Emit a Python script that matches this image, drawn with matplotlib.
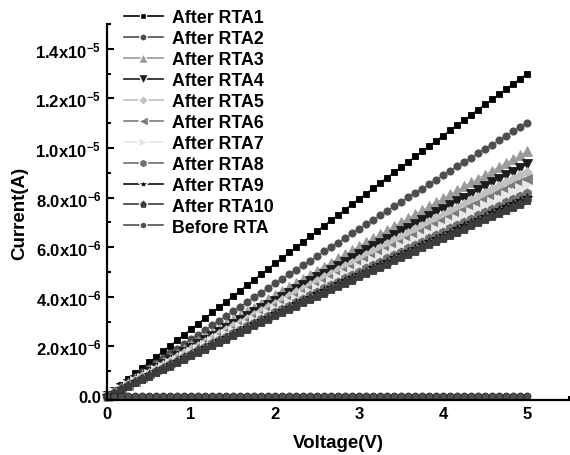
import numpy as np
import matplotlib
matplotlib.use('Agg')
import matplotlib.pyplot as plt
from matplotlib.ticker import FixedLocator, MultipleLocator

plt.rcParams['font.family'] = ['Liberation Sans', 'DejaVu Sans']
plt.rcParams['font.weight'] = 'bold'
plt.rcParams['mathtext.fontset'] = 'custom'
plt.rcParams['mathtext.rm'] = 'Liberation Sans:bold'
plt.rcParams['mathtext.bf'] = 'Liberation Sans:bold'
plt.rcParams['mathtext.default'] = 'bf'

# 电压扫描点 (V)
voltage = [0.000, 0.083, 0.167, 0.250, 0.333, 0.417, 0.500, 0.583, 0.667, 0.750,
           0.833, 0.917, 1.000, 1.083, 1.167, 1.250, 1.333, 1.417, 1.500, 1.583,
           1.667, 1.750, 1.833, 1.917, 2.000, 2.083, 2.167, 2.250, 2.333, 2.417,
           2.500, 2.583, 2.667, 2.750, 2.833, 2.917, 3.000, 3.083, 3.167, 3.250,
           3.333, 3.417, 3.500, 3.583, 3.667, 3.750, 3.833, 3.917, 4.000, 4.083,
           4.167, 4.250, 4.333, 4.417, 4.500, 4.583, 4.667, 4.750, 4.833, 4.917,
           5.000]

# 电流 (uA)
rta1 = [0.00, 0.23, 0.45, 0.68, 0.91, 1.13, 1.36, 1.58, 1.81, 2.03, 2.25, 2.48, 2.70,
        2.92, 3.15, 3.37, 3.59, 3.81, 4.03, 4.25, 4.47, 4.69, 4.91, 5.13, 5.35, 5.57,
        5.79, 6.00, 6.22, 6.44, 6.66, 6.87, 7.09, 7.30, 7.52, 7.74, 7.95, 8.16, 8.38,
        8.59, 8.81, 9.02, 9.23, 9.44, 9.66, 9.87, 10.08, 10.29, 10.50, 10.71, 10.92,
        11.13, 11.34, 11.55, 11.76, 11.96, 12.17, 12.38, 12.59, 12.79, 13.00]
rta2 = [0.00, 0.19, 0.38, 0.58, 0.77, 0.96, 1.15, 1.34, 1.53, 1.72, 1.91, 2.10, 2.29,
        2.48, 2.67, 2.85, 3.04, 3.23, 3.42, 3.60, 3.79, 3.98, 4.16, 4.35, 4.54, 4.72,
        4.91, 5.09, 5.27, 5.46, 5.64, 5.83, 6.01, 6.19, 6.37, 6.56, 6.74, 6.92, 7.10,
        7.28, 7.46, 7.65, 7.83, 8.01, 8.19, 8.36, 8.54, 8.72, 8.90, 9.08, 9.26, 9.43,
        9.61, 9.79, 9.97, 10.14, 10.32, 10.49, 10.67, 10.85, 11.02]
rta3 = [0.00, 0.17, 0.34, 0.52, 0.69, 0.86, 1.03, 1.20, 1.37, 1.54, 1.71, 1.88, 2.05,
        2.22, 2.39, 2.56, 2.72, 2.89, 3.06, 3.23, 3.40, 3.56, 3.73, 3.90, 4.06, 4.23,
        4.39, 4.56, 4.72, 4.89, 5.05, 5.22, 5.38, 5.55, 5.71, 5.87, 6.04, 6.20, 6.36,
        6.52, 6.69, 6.85, 7.01, 7.17, 7.33, 7.49, 7.65, 7.81, 7.97, 8.13, 8.29, 8.45,
        8.61, 8.77, 8.93, 9.08, 9.24, 9.40, 9.56, 9.71, 9.87]
rta4 = [0.00, 0.16, 0.33, 0.49, 0.65, 0.81, 0.98, 1.14, 1.30, 1.46, 1.62, 1.78, 1.94,
        2.10, 2.26, 2.42, 2.58, 2.74, 2.90, 3.06, 3.22, 3.37, 3.53, 3.69, 3.85, 4.01,
        4.16, 4.32, 4.48, 4.63, 4.79, 4.94, 5.10, 5.25, 5.41, 5.56, 5.72, 5.87, 6.03,
        6.18, 6.33, 6.49, 6.64, 6.79, 6.94, 7.10, 7.25, 7.40, 7.55, 7.70, 7.85, 8.00,
        8.16, 8.31, 8.46, 8.61, 8.75, 8.90, 9.05, 9.20, 9.35]
rta5 = [0.00, 0.16, 0.32, 0.47, 0.63, 0.79, 0.94, 1.10, 1.26, 1.41, 1.57, 1.72, 1.88,
        2.03, 2.19, 2.34, 2.50, 2.65, 2.81, 2.96, 3.11, 3.27, 3.42, 3.57, 3.72, 3.88,
        4.03, 4.18, 4.33, 4.48, 4.63, 4.78, 4.94, 5.09, 5.24, 5.38, 5.53, 5.68, 5.83,
        5.98, 6.13, 6.28, 6.43, 6.57, 6.72, 6.87, 7.02, 7.16, 7.31, 7.46, 7.60, 7.75,
        7.89, 8.04, 8.18, 8.33, 8.47, 8.62, 8.76, 8.91, 9.05]
rta6 = [0.00, 0.15, 0.31, 0.46, 0.61, 0.76, 0.92, 1.07, 1.22, 1.37, 1.52, 1.67, 1.82,
        1.97, 2.12, 2.27, 2.42, 2.57, 2.72, 2.87, 3.02, 3.17, 3.31, 3.46, 3.61, 3.76,
        3.90, 4.05, 4.20, 4.34, 4.49, 4.64, 4.78, 4.93, 5.07, 5.22, 5.36, 5.51, 5.65,
        5.80, 5.94, 6.08, 6.23, 6.37, 6.51, 6.66, 6.80, 6.94, 7.08, 7.23, 7.37, 7.51,
        7.65, 7.79, 7.93, 8.07, 8.21, 8.35, 8.49, 8.63, 8.77]
rta7 = [0.00, 0.15, 0.30, 0.44, 0.59, 0.74, 0.89, 1.03, 1.18, 1.33, 1.47, 1.62, 1.77,
        1.91, 2.06, 2.20, 2.35, 2.49, 2.64, 2.78, 2.92, 3.07, 3.21, 3.35, 3.50, 3.64,
        3.78, 3.93, 4.07, 4.21, 4.35, 4.49, 4.64, 4.78, 4.92, 5.06, 5.20, 5.34, 5.48,
        5.62, 5.76, 5.90, 6.04, 6.17, 6.31, 6.45, 6.59, 6.73, 6.87, 7.00, 7.14, 7.28,
        7.41, 7.55, 7.69, 7.82, 7.96, 8.09, 8.23, 8.37, 8.50]
rta8 = [0.00, 0.14, 0.29, 0.43, 0.57, 0.71, 0.86, 1.00, 1.14, 1.28, 1.42, 1.56, 1.70,
        1.84, 1.98, 2.12, 2.26, 2.40, 2.54, 2.68, 2.82, 2.96, 3.10, 3.24, 3.37, 3.51,
        3.65, 3.79, 3.92, 4.06, 4.20, 4.34, 4.47, 4.61, 4.74, 4.88, 5.01, 5.15, 5.28,
        5.42, 5.55, 5.69, 5.82, 5.96, 6.09, 6.22, 6.36, 6.49, 6.62, 6.76, 6.89, 7.02,
        7.15, 7.28, 7.42, 7.55, 7.68, 7.81, 7.94, 8.07, 8.20]
rta9 = [0.00, 0.14, 0.28, 0.42, 0.56, 0.70, 0.83, 0.97, 1.11, 1.25, 1.39, 1.52, 1.66,
        1.80, 1.94, 2.07, 2.21, 2.34, 2.48, 2.62, 2.75, 2.89, 3.02, 3.16, 3.29, 3.43,
        3.56, 3.70, 3.83, 3.96, 4.10, 4.23, 4.36, 4.50, 4.63, 4.76, 4.89, 5.02, 5.16,
        5.29, 5.42, 5.55, 5.68, 5.81, 5.94, 6.07, 6.20, 6.33, 6.46, 6.59, 6.72, 6.85,
        6.98, 7.11, 7.23, 7.36, 7.49, 7.62, 7.75, 7.87, 8.00]
rta10 = [0.00, 0.14, 0.28, 0.41, 0.55, 0.69, 0.82, 0.96, 1.10, 1.23, 1.37, 1.50, 1.64,
         1.77, 1.91, 2.04, 2.18, 2.31, 2.45, 2.58, 2.71, 2.85, 2.98, 3.11, 3.25, 3.38,
         3.51, 3.64, 3.78, 3.91, 4.04, 4.17, 4.30, 4.43, 4.56, 4.69, 4.83, 4.96, 5.09,
         5.21, 5.34, 5.47, 5.60, 5.73, 5.86, 5.99, 6.12, 6.24, 6.37, 6.50, 6.63, 6.75,
         6.88, 7.01, 7.14, 7.26, 7.39, 7.51, 7.64, 7.76, 7.89]
before = [0.00, 0.00, 0.00, 0.00, 0.00, 0.00, 0.00, 0.00, 0.00, 0.00, 0.00, 0.00, 0.00,
          0.00, 0.00, 0.00, 0.00, 0.00, 0.00, 0.00, 0.00, 0.00, 0.00, 0.00, 0.00, 0.00,
          0.00, 0.00, 0.00, 0.00, 0.00, 0.00, 0.00, 0.00, 0.00, 0.00, 0.00, 0.00, 0.00,
          0.00, 0.00, 0.00, 0.00, 0.00, 0.00, 0.00, 0.00, 0.00, 0.00, 0.00, 0.00, 0.00,
          0.00, 0.00, 0.00, 0.00, 0.00, 0.00, 0.00, 0.00, 0.00]

labels = ['After RTA1', 'After RTA2', 'After RTA3', 'After RTA4', 'After RTA5',
          'After RTA6', 'After RTA7', 'After RTA8', 'After RTA9', 'After RTA10',
          'Before RTA']
series = [rta1, rta2, rta3, rta4, rta5, rta6, rta7, rta8, rta9, rta10, before]

yticks = [0, 2e-6, 4e-6, 6e-6, 8e-6, 1.0e-5, 1.2e-5, 1.4e-5]
ytick_labels = ['0.0', r'2.0x10$^{-6}$', r'4.0x10$^{-6}$', r'6.0x10$^{-6}$',
                r'8.0x10$^{-6}$', r'1.0x10$^{-5}$', r'1.2x10$^{-5}$', r'1.4x10$^{-5}$']

# 样式
markers = ['s', 'o', '^', 'v', 'D', '<', '>', 'h', '*', 'p', 'o']
colors = ['#000000', '#4d4d4d', '#9a9a9a', '#1c1c1c', '#c0c0c0', '#7a7a7a',
          '#e8e8e8', '#707070', '#0e0e0e', '#3c3c3c', '#505050']
edges = ['#000000', '#4d4d4d', '#9a9a9a', '#1c1c1c', '#c0c0c0', '#7a7a7a',
         '#e8e8e8', '#707070', '#0e0e0e', '#3c3c3c', '#222222']
msizes = [4.4, 5.2, 6.8, 6.8, 5.0, 6.5, 6.5, 6.5, 7.0, 6.5, 5.0]

fig = plt.figure(figsize=(5.7, 4.56), dpi=100)
ax = fig.add_axes([0.1877, 0.1206, 0.8103, 0.8246])

V = np.array(voltage)
for ys, lab, m, c, ec, ms in zip(series, labels, markers, colors, edges, msizes):
    ax.plot(V, np.array(ys) * 1e-6, marker=m, color=c, mfc=c, mec=ec, ms=ms,
            mew=0.6, lw=0.6, label=lab, clip_on=False)

ax.set_xlim(0, 5.5)
ax.set_ylim(-1.6e-7, 1.5e-5)
ax.xaxis.set_major_locator(FixedLocator([0, 1, 2, 3, 4, 5]))
ax.xaxis.set_minor_locator(MultipleLocator(0.5))
ax.yaxis.set_major_locator(FixedLocator(yticks))
ax.set_yticklabels(ytick_labels)
ax.yaxis.set_minor_locator(MultipleLocator(1e-6))

for s in ['top', 'right']:
    ax.spines[s].set_visible(False)
for s in ['left', 'bottom']:
    ax.spines[s].set_linewidth(1.6)
ax.tick_params(which='both', direction='in', width=1.5, labelsize=12)
ax.tick_params(which='major', length=5, pad=4)
ax.tick_params(which='minor', length=3)

ax.set_xlabel('Voltage(V)', fontsize=13.5, fontweight='bold', labelpad=10)
ax.set_ylabel('Current(A)', fontsize=13.5, fontweight='bold', labelpad=5)

leg = ax.legend(loc='upper left', bbox_to_anchor=(0.217, 0.977),
                bbox_transform=fig.transFigure, frameon=False, fontsize=12.8,
                handlelength=2.2, handletextpad=0.5, labelspacing=0.22,
                borderpad=0, borderaxespad=0, markerscale=1.0)
for h in leg.legend_handles:
    h.set_linewidth(1.2)
    h.set_markeredgecolor('white')
    h.set_markeredgewidth(1.0)

fig.savefig('out.png', dpi=100)
